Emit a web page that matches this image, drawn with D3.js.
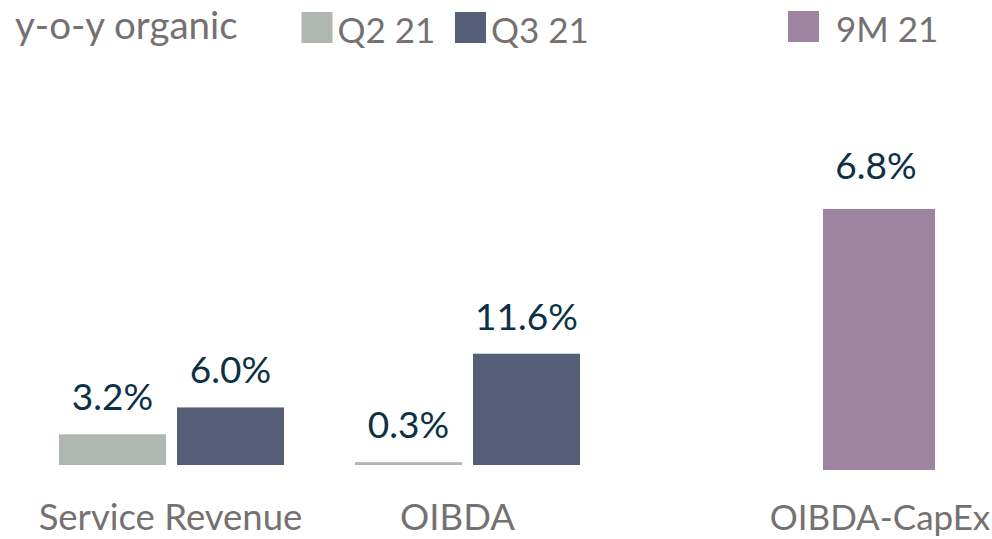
<!DOCTYPE html>
<html>
<head>
<meta charset="utf-8">
<script src="https://cdn.jsdelivr.net/npm/d3@7"></script>
<style>
  body { margin: 0; background: #fff; }
  svg { display: block; font-family: Lato, "Open Sans", sans-serif; }
</style>
</head>
<body>
<div id="chart"></div>
<script>
// data
var categories = ["Service Revenue", "OIBDA"];
var series = ["Q2 21", "Q3 21"];
var q2Values = [3.2, 0.3];
var q3Values = [6.0, 11.6];
var capexCategory = ["OIBDA-CapEx"];
var capexSeries = "9M 21";
var capexValues = [6.8];

var colors = {"Q2 21": "#b0b7b0", "Q3 21": "#565f78", "9M 21": "#9e84a0"};
var labelColor = "#0c3146";
var greyText = "#757171";

var width = 992, height = 539;

var svg = d3.select("#chart")
    .append("svg")
        .attr("width", width)
        .attr("height", height);

// left chart: two groups of two bars
var x0 = d3.scaleBand()
    .domain(categories)
    .range([23.5, 615.5]);

var x1 = d3.scaleBand()
    .domain(series)
    .range([35.5, 260.5])
    .paddingInner(0.0932);

var y = d3.scaleLinear()
    .domain([0, 11.6])
    .range([465, 353.7]);

var rows = [];
categories.forEach(function(c, i){
    rows.push({cat: c, s: "Q2 21", v: q2Values[i]});
    rows.push({cat: c, s: "Q3 21", v: q3Values[i]});
});

var left = svg.append("g");

left.selectAll("rect")
    .data(rows)
    .enter()
    .append("rect")
        .attr("x", d => x0(d.cat) + x1(d.s))
        .attr("y", d => y(d.v))
        .attr("width", x1.bandwidth())
        .attr("height", d => y(0) - y(d.v))
        .attr("fill", d => colors[d.s]);

left.selectAll("text.val")
    .data(rows)
    .enter()
    .append("text")
        .attr("class", "val")
        .text(d => d.v.toFixed(1) + "%")
        .attr("x", d => x0(d.cat) + x1(d.s) + x1.bandwidth() / 2)
        .attr("y", d => Math.min(y(d.v) - 24, y(0) - 15))
        .attr("text-anchor", "middle")
        .attr("fill", labelColor)
        .style("font-size", "37px");

left.selectAll("text.cat")
    .data(categories)
    .enter()
    .append("text")
        .attr("class", "cat")
        .text(d => d)
        .attr("x", (d, i) => x0(d) + x0.bandwidth() / 2 - (i == 1 ? 10 : 1))
        .attr("y", 530)
        .attr("text-anchor", "middle")
        .attr("fill", greyText)
        .style("font-size", "36.5px");

// right chart: separate scale for OIBDA-CapEx
var x2 = d3.scaleBand()
    .domain(capexCategory)
    .range([823, 935]);

var y2 = d3.scaleLinear()
    .domain([0, 6.8])
    .range([470, 209]);

var right = svg.append("g");

right.selectAll("rect")
    .data(capexValues)
    .enter()
    .append("rect")
        .attr("x", (d, i) => x2(capexCategory[i]))
        .attr("y", d => y2(d))
        .attr("width", x2.bandwidth())
        .attr("height", d => y2(0) - y2(d))
        .attr("fill", colors[capexSeries]);

right.selectAll("text.val")
    .data(capexValues)
    .enter()
    .append("text")
        .attr("class", "val")
        .text(d => d.toFixed(1) + "%")
        .attr("x", (d, i) => x2(capexCategory[i]) + x2.bandwidth() / 2 - 3)
        .attr("y", d => y2(d) - 30)
        .attr("text-anchor", "middle")
        .attr("fill", labelColor)
        .style("font-size", "37px");

right.selectAll("text.cat")
    .data(capexCategory)
    .enter()
    .append("text")
        .attr("class", "cat")
        .text(d => d)
        .attr("x", d => x2(d) + x2.bandwidth() / 2 + 1)
        .attr("y", 530)
        .attr("text-anchor", "middle")
        .attr("fill", greyText)
        .style("font-size", "35px");

// legend
var legend = svg.append("g");

legend.append("text")
    .text("y-o-y organic")
    .attr("x", 15)
    .attr("y", 39)
    .attr("fill", greyText)
    .style("font-size", "38.5px");

var legendItems = [
    {s: "Q2 21", x: 301.5, y: 12},
    {s: "Q3 21", x: 455, y: 12},
    {s: "9M 21", x: 788, y: 11}
];

legendItems.forEach(function(d){
    legend.append("rect")
        .attr("x", d.x)
        .attr("y", d.y)
        .attr("width", 31)
        .attr("height", 31)
        .attr("fill", colors[d.s]);
    legend.append("text")
        .text(d.s)
        .attr("x", d.x + (d.s == "9M 21" ? 48 : 36))
        .attr("y", d.y + 31)
        .attr("fill", greyText)
        .style("font-size", "35px");
});
</script>
</body>
</html>
